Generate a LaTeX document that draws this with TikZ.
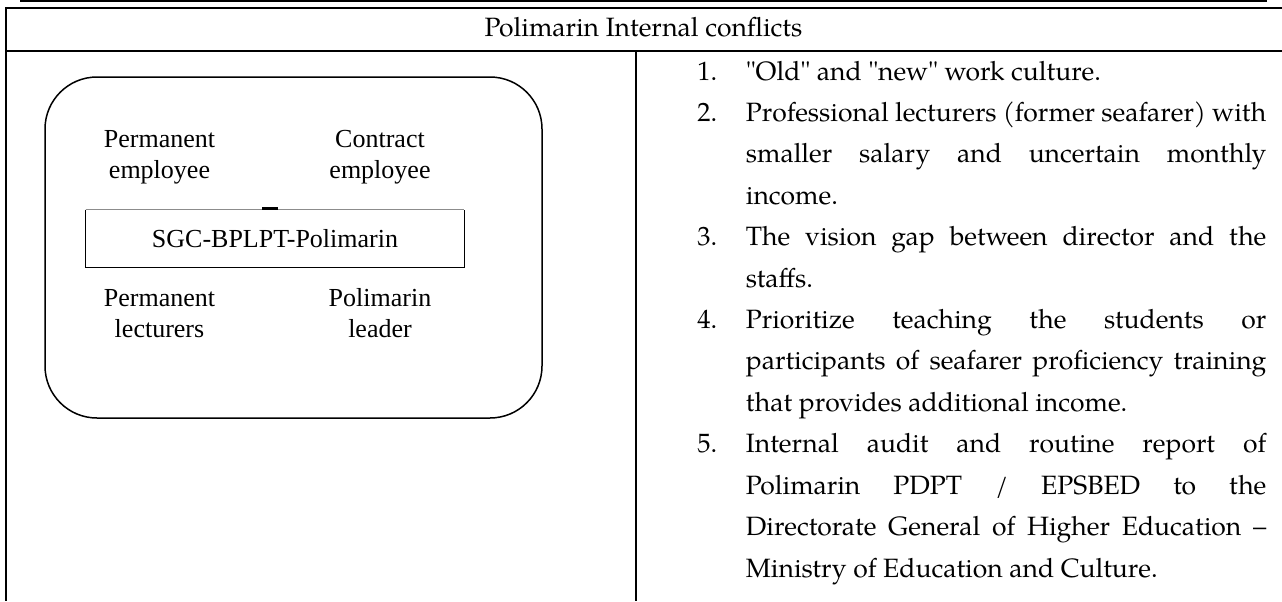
\documentclass[tikz,border=0pt]{standalone}
\usepackage{fontspec}
\setmainfont{Liberation Serif}
\newfontfamily\timesf{Liberation Serif}
\newfontfamily\palf{TeX Gyre Pagella}
\newcommand\palfont{\palf\fontsize{13.25}{20}\selectfont}
\tikzset{
  tline/.style={line width=1pt},
  lbl/.style={font=\timesf\fontsize{13}{15.5}\selectfont, align=center, inner sep=0pt, anchor=north},
  pal/.style={font=\palfont, inner sep=0pt, anchor=base west},
  numlbl/.style={font=\palfont, inner sep=0pt, anchor=base west},
}
\begin{document}
\begin{tikzpicture}[x=0.5pt,y=-0.5pt]
\useasboundingbox (0,0) rectangle (1282,601);
% table frame
\coordinate (topA) at (20,1.3);
\coordinate (topB) at (1267,1.3);
\coordinate (tl) at (5.7,8.3);
\coordinate (tr) at (1282,8.3);
\coordinate (hl) at (5.7,50.8);
\coordinate (hr) at (1282,50.8);
\coordinate (bl) at (5.7,601);
\coordinate (dt) at (636,50.8);
\coordinate (db) at (636,601);
\draw[tline] (topA) -- (topB);
\draw[tline] (tr) -- (tl) -- (bl);
\draw[tline] (hl) -- (hr);
\draw[line width=1.2pt] (dt) -- (db);
\node[pal, anchor=base] (title) at (643.5,36) {Polimarin Internal conflicts};
% left diagram
\node[draw, line width=0.75pt, rounded corners=26pt, minimum width=248.5pt, minimum height=170.5pt, inner sep=0pt] (frame) at (293.5,247.5) {};
\node[minimum width=189pt, minimum height=28.5pt, inner sep=0pt, font=\timesf\fontsize{13}{15.5}\selectfont] (sgc) at (275,238.5) {SGC-BPLPT-Polimarin};
\draw[line width=0.75pt] (sgc.north west) -- (sgc.south west) -- (sgc.south east) -- (sgc.north east);
\draw[line width=0.6pt, black!45] (sgc.north west) -- (sgc.north east);
\coordinate (dashA) at (262,208.6);
\coordinate (dashB) at (278,208.6);
\draw[line width=1.2pt] (dashA) -- (dashB);
\node[lbl] (pemp) at (159.5,130) {Permanent\\employee};
\node[lbl] (cemp) at (380,130) {Contract\\employee};
\node[lbl] (plec) at (159.5,289.5) {Permanent\\lecturers};
\node[lbl] (plead) at (380,288) {Polimarin\\leader};
% right list
\node[numlbl] (n1) at (697,80) {1.};
\node[numlbl] (n2) at (697,121.42) {2.};
\node[numlbl] (n3) at (697,245.68) {3.};
\node[numlbl] (n4) at (697,328.52) {4.};
\node[numlbl] (n5) at (697,452.78) {5.};
\node[pal] (r0) at (745.5,80) {"Old" and "new" work culture.};
\node[pal] (r1) at (745.5,121.42) {\makebox[260.25pt][s]{Professional lecturers (former seafarer) with}};
\node[pal] (r2) at (745.5,162.84) {\makebox[260.25pt][s]{smaller salary and uncertain monthly}};
\node[pal] (r3) at (745.5,204.26) {income.};
\node[pal] (r4) at (745.5,245.68) {\makebox[260.25pt][s]{The vision gap between director and the}};
\node[pal] (r5) at (745.5,287.1) {staffs.};
\node[pal] (r6) at (745.5,328.52) {\makebox[260.25pt][s]{Prioritize teaching the students or}};
\node[pal] (r7) at (745.5,369.94) {\makebox[260.25pt][s]{participants of seafarer proficiency training}};
\node[pal] (r8) at (745.5,411.36) {that provides additional income.};
\node[pal] (r9) at (745.5,452.78) {\makebox[260.25pt][s]{Internal audit and routine report of}};
\node[pal] (r10) at (745.5,494.2) {\makebox[260.25pt][s]{Polimarin PDPT / EPSBED to the}};
\node[pal] (r11) at (745.5,535.62) {\makebox[260.25pt][s]{Directorate General of Higher Education –}};
\node[pal] (r12) at (745.5,577.04) {Ministry of Education and Culture.};
\end{tikzpicture}
\end{document}
